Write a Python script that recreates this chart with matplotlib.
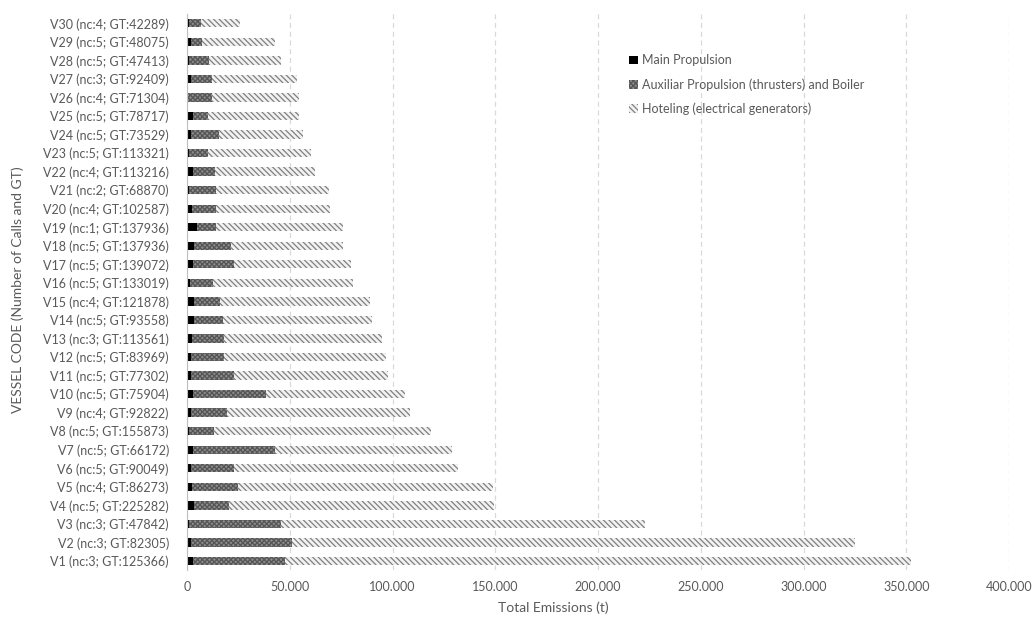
import matplotlib
matplotlib.use("Agg")
import matplotlib.pyplot as plt
import matplotlib.patches as mpatches
from matplotlib.ticker import FuncFormatter, MultipleLocator

# ── Data (tonnes) ─────────────────────────────────────────────────────────────
vessels = [
    "V1 (nc:3; GT:125366)", "V2 (nc:3; GT:82305)", "V3 (nc:3; GT:47842)",
    "V4 (nc:5; GT:225282)", "V5 (nc:4; GT:86273)", "V6 (nc:5; GT:90049)",
    "V7 (nc:5; GT:66172)", "V8 (nc:5; GT:155873)", "V9 (nc:4; GT:92822)",
    "V10 (nc:5; GT:75904)", "V11 (nc:5; GT:77302)", "V12 (nc:5; GT:83969)",
    "V13 (nc:3; GT:113561)", "V14 (nc:5; GT:93558)", "V15 (nc:4; GT:121878)",
    "V16 (nc:5; GT:133019)", "V17 (nc:5; GT:139072)", "V18 (nc:5; GT:137936)",
    "V19 (nc:1; GT:137936)", "V20 (nc:4; GT:102587)", "V21 (nc:2; GT:68870)",
    "V22 (nc:4; GT:113216)", "V23 (nc:5; GT:113321)", "V24 (nc:5; GT:73529)",
    "V25 (nc:5; GT:78717)", "V26 (nc:4; GT:71304)", "V27 (nc:3; GT:92409)",
    "V28 (nc:5; GT:47413)", "V29 (nc:5; GT:48075)", "V30 (nc:4; GT:42289)",
]
main_prop = [2800, 1800, 1100, 3400, 2500, 1800, 2800, 1100, 1800, 2800,
             1800, 1800, 2200, 3400, 3400, 1500, 2800, 3400, 4700, 2200,
             1100, 2800, 1000, 1800, 2800, 700, 2000, 800, 1800, 1100]
aux_prop = [44800, 49100, 44600, 17200, 22100, 21200, 40000, 12000, 17800, 35600,
            21000, 16200, 15600, 13900, 12600, 11300, 20200, 18000, 9400, 11900,
            13000, 10800, 9400, 13900, 7600, 11600, 10300, 10100, 5700, 5700]
hoteling = [304900, 274100, 177000, 128600, 124200, 109100, 85900, 105400, 89100, 67600,
            75100, 78900, 77200, 72500, 73000, 68200, 56700, 54600, 61600, 55400,
            54900, 48600, 49900, 40500, 44200, 42300, 41000, 34800, 35300, 19000]

series_labels = ["Main Propulsion",
                 "Auxiliar Propulsion (thrusters) and Boiler",
                 "Hoteling (electrical generators)"]

TEXT = "#595959"
AUX_STYLE = dict(facecolor="#8c8c8c", edgecolor="#555555", hatch="xxxxxxx", linewidth=0)
HOT_STYLE = dict(facecolor="#f2f2f2", edgecolor="#808080", hatch="\\\\\\\\\\\\", linewidth=0)

plt.rcParams["font.family"] = ["Lato", "DejaVu Sans"]
plt.rcParams["hatch.linewidth"] = 0.9


def thousands(x, pos):
    return "0" if x == 0 else f"{int(x):,}".replace(",", ".")


fig = plt.figure(figsize=(10.35, 6.19), dpi=100)
ax = fig.add_axes([0.1807, 0.0787, 0.7942, 0.8987])

y = list(range(len(vessels)))
h = 0.45
left_aux = main_prop
left_hot = [m + a for m, a in zip(main_prop, aux_prop)]

ax.barh(y, main_prop, height=h, color="black", linewidth=0)
ax.barh(y, aux_prop, left=left_aux, height=h, **AUX_STYLE)
ax.barh(y, hoteling, left=left_hot, height=h, **HOT_STYLE)

ax.set_xlim(0, 400000)
ax.set_ylim(-0.5, len(vessels) - 0.5)
ax.xaxis.set_major_locator(MultipleLocator(50000))
ax.xaxis.set_major_formatter(FuncFormatter(thousands))
ax.set_yticks(y)
ax.set_yticklabels(vessels)
ax.tick_params(axis="both", length=0, labelsize=9, labelcolor=TEXT)
ax.tick_params(axis="y", pad=13)
ax.tick_params(axis="x", pad=8)

ax.grid(axis="x", color="#d9d9d9", linestyle=(0, (4, 3)), linewidth=0.9)
ax.set_axisbelow(True)
for s in ["top", "right", "bottom"]:
    ax.spines[s].set_visible(False)
ax.spines["left"].set_color("#bfbfbf")

fig.text(553 / 1035, 1 - 608 / 619, "Total Emissions (t)", ha="center",
         va="center", fontsize=10, color=TEXT)
fig.text(18 / 1035, 1 - 290 / 619, "VESSEL CODE (Number of Calls and GT)",
         ha="center", va="center", rotation=90, fontsize=10, color=TEXT)

handles = [
    mpatches.Patch(facecolor="black", linewidth=0),
    mpatches.Patch(**AUX_STYLE),
    mpatches.Patch(**HOT_STYLE),
]
leg = fig.legend(handles, series_labels, loc="upper left",
                 bbox_to_anchor=(618 / 1035, 1 - 43 / 619), frameon=False,
                 fontsize=9, handlelength=0.7, handleheight=0.7,
                 handletextpad=0.3, labelspacing=0.95)
for t in leg.get_texts():
    t.set_color(TEXT)

fig.savefig("out.png", dpi=100)
